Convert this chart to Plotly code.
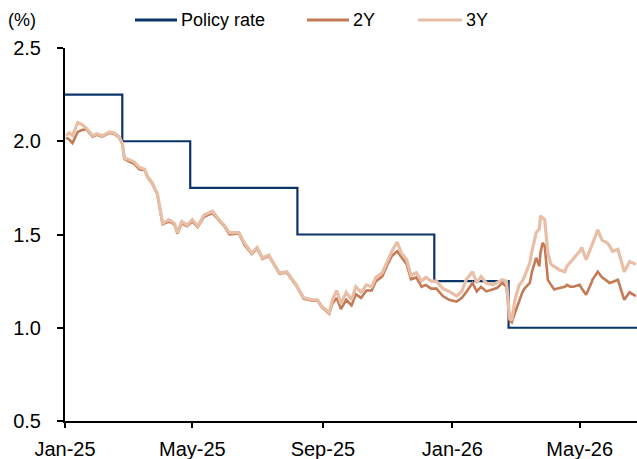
import plotly.graph_objects as go

# ---------------- data ----------------
policy_dates = ["2025-01-01", "2025-02-24", "2025-04-29", "2025-08-08",
                "2025-12-15", "2026-02-23", "2026-06-24"]
policy_rate = [2.25, 2.00, 1.75, 1.50, 1.25, 1.00, 1.00]

bond_dates = [
    "2025-01-02", "2025-01-05", "2025-01-08", "2025-01-13", "2025-01-17", "2025-01-21",
    "2025-01-27", "2025-01-31", "2025-02-05", "2025-02-12", "2025-02-16", "2025-02-21",
    "2025-02-24", "2025-02-26", "2025-03-03", "2025-03-07", "2025-03-12", "2025-03-17",
    "2025-03-20", "2025-03-24", "2025-03-29", "2025-04-02", "2025-04-03", "2025-04-09",
    "2025-04-14", "2025-04-17", "2025-04-21", "2025-04-26", "2025-05-01", "2025-05-06",
    "2025-05-12", "2025-05-20", "2025-05-26", "2025-05-31", "2025-06-05", "2025-06-14",
    "2025-06-19", "2025-06-26", "2025-07-01", "2025-07-06", "2025-07-12", "2025-07-22",
    "2025-07-29", "2025-08-07", "2025-08-14", "2025-08-22", "2025-08-27", "2025-08-31",
    "2025-09-07", "2025-09-10", "2025-09-14", "2025-09-18", "2025-09-23", "2025-09-28",
    "2025-10-02", "2025-10-07", "2025-10-12", "2025-10-17", "2025-10-21", "2025-10-27",
    "2025-11-01", "2025-11-05", "2025-11-10", "2025-11-14", "2025-11-19", "2025-11-23",
    "2025-11-28", "2025-12-03", "2025-12-07", "2025-12-12", "2025-12-17", "2025-12-23",
    "2025-12-29", "2026-01-05", "2026-01-10", "2026-01-14", "2026-01-20", "2026-01-24",
    "2026-01-28", "2026-02-02", "2026-02-08", "2026-02-12", "2026-02-17", "2026-02-21",
    "2026-02-24", "2026-02-26", "2026-03-01", "2026-03-05", "2026-03-08", "2026-03-10",
    "2026-03-15", "2026-03-17", "2026-03-21", "2026-03-24", "2026-03-25", "2026-03-27",
    "2026-03-29", "2026-03-30", "2026-03-31", "2026-04-01", "2026-04-04", "2026-04-07",
    "2026-04-10", "2026-04-12", "2026-04-17", "2026-04-19", "2026-04-22", "2026-04-25",
    "2026-04-28", "2026-05-01", "2026-05-03", "2026-05-07", "2026-05-12", "2026-05-13",
    "2026-05-18", "2026-05-22", "2026-05-27", "2026-05-29", "2026-06-01", "2026-06-06",
    "2026-06-12", "2026-06-17", "2026-06-23",
]

yield_3y = [
    2.03, 2.045, 2.03, 2.10, 2.09, 2.07,
    2.03, 2.04, 2.03, 2.05, 2.045, 2.025,
    1.99, 1.91, 1.90, 1.89, 1.86, 1.85,
    1.81, 1.78, 1.72, 1.60, 1.56, 1.58,
    1.56, 1.51, 1.57, 1.55, 1.58, 1.545,
    1.605, 1.625, 1.58, 1.55, 1.51, 1.51,
    1.455, 1.40, 1.43, 1.375, 1.39, 1.295,
    1.30, 1.23, 1.16, 1.15, 1.15, 1.115,
    1.08, 1.15, 1.20, 1.13, 1.19, 1.15,
    1.22, 1.19, 1.23, 1.22, 1.27, 1.295,
    1.365, 1.41, 1.46, 1.40, 1.365, 1.28,
    1.295, 1.25, 1.27, 1.25, 1.25, 1.21,
    1.195, 1.17, 1.195, 1.257, 1.30, 1.24,
    1.275, 1.24, 1.23, 1.24, 1.257, 1.25,
    1.05, 1.04, 1.15, 1.23, 1.25, 1.275,
    1.35, 1.41, 1.51, 1.53, 1.60, 1.59,
    1.58, 1.52, 1.455, 1.40, 1.34, 1.33,
    1.32, 1.31, 1.30, 1.33, 1.35, 1.37,
    1.39, 1.41, 1.43, 1.365, 1.435, 1.45,
    1.525, 1.47, 1.455, 1.44, 1.41, 1.42,
    1.30, 1.355, 1.34,
]

yield_2y = [
    2.02, 2.01, 1.99, 2.05, 2.06, 2.065,
    2.025, 2.035, 2.025, 2.045, 2.04, 2.02,
    1.985, 1.905, 1.89, 1.88, 1.85, 1.845,
    1.805, 1.775, 1.715, 1.595, 1.555, 1.57,
    1.555, 1.505, 1.56, 1.545, 1.57, 1.54,
    1.595, 1.615, 1.575, 1.545, 1.50, 1.505,
    1.445, 1.395, 1.425, 1.37, 1.385, 1.29,
    1.295, 1.225, 1.155, 1.145, 1.145, 1.11,
    1.075, 1.13, 1.16, 1.10, 1.15, 1.12,
    1.18, 1.16, 1.20, 1.20, 1.25, 1.275,
    1.34, 1.385, 1.41, 1.38, 1.34, 1.26,
    1.27, 1.22, 1.23, 1.21, 1.21, 1.17,
    1.15, 1.14, 1.16, 1.19, 1.24, 1.195,
    1.22, 1.195, 1.205, 1.213, 1.24, 1.22,
    1.04, 1.03, 1.08, 1.15, 1.19, 1.21,
    1.24, 1.30, 1.375, 1.33, 1.40, 1.455,
    1.44, 1.38, 1.30, 1.257, 1.23, 1.205,
    1.21, 1.213, 1.22, 1.23, 1.22, 1.22,
    1.225, 1.23, 1.21, 1.177, 1.24, 1.257,
    1.30, 1.27, 1.25, 1.24, 1.245, 1.257,
    1.15, 1.19, 1.17,
]

tick_dates = ["2025-01-01", "2025-05-01", "2025-09-01", "2026-01-01", "2026-05-01"]
tick_labels = ["Jan-25", "May-25", "Sep-25", "Jan-26", "May-26"]
y_ticks = [0.5, 1.0, 1.5, 2.0, 2.5]

series_names = ["Policy rate", "2Y", "3Y"]
series_colors = ["#0B3468", "#C47A55", "#E8BFA6"]

FONT = "Arial, Liberation Sans, sans-serif"

# ---------------- figure ----------------
fig = go.Figure()
fig.add_trace(go.Scatter(x=policy_dates, y=policy_rate, mode="lines",
                         line=dict(color=series_colors[0], width=2.2, shape="hv"),
                         name=series_names[0], showlegend=False))
fig.add_trace(go.Scatter(x=bond_dates, y=yield_2y, mode="lines",
                         line=dict(color=series_colors[1], width=2.6),
                         name=series_names[1], showlegend=False))
fig.add_trace(go.Scatter(x=bond_dates, y=yield_3y, mode="lines",
                         line=dict(color=series_colors[2], width=3.2),
                         name=series_names[2], showlegend=False))

L, R, T, B = 65, 0, 48, 38
W, H = 637, 459
pw, ph = W - L - R, H - T - B


def px_x(p):
    return (p - L) / pw


def px_y(p):
    return (H - B - p) / ph


# manual legend (line sample + label) placed above the plot
legend_pos = [(135, 177), (307, 349), (418, 462)]
shapes = []
annotations = []
for name, color, (x0, x1) in zip(series_names, series_colors, legend_pos):
    shapes.append(dict(type="line", xref="paper", yref="paper",
                       x0=px_x(x0), x1=px_x(x1), y0=px_y(20), y1=px_y(20),
                       line=dict(color=color, width=3)))
    annotations.append(dict(text=name, xref="paper", yref="paper",
                            x=px_x(x1 + 2), y=px_y(20), xanchor="left", yanchor="middle",
                            showarrow=False, font=dict(family=FONT, size=18, color="#000")))

annotations.append(dict(text="(%)", xref="paper", yref="paper",
                        x=px_x(6), y=px_y(20), xanchor="left", yanchor="middle",
                        showarrow=False, font=dict(family=FONT, size=18, color="#000")))

fig.update_layout(
    width=W, height=H,
    margin=dict(l=L, r=R, t=T, b=B, pad=0),
    paper_bgcolor="white", plot_bgcolor="white",
    font=dict(family=FONT, size=20, color="#000"),
    shapes=shapes, annotations=annotations,
    showlegend=False,
)
fig.update_xaxes(
    range=["2025-01-01", "2026-06-24"],
    tickvals=tick_dates, ticktext=tick_labels,
    showgrid=False, zeroline=False,
    showline=True, linecolor="#000", linewidth=2,
    ticks="outside", ticklen=5, tickwidth=2, tickcolor="#000",
    tickfont=dict(family=FONT, size=20, color="#000"),
    ticklabelstandoff=4,
)
fig.update_yaxes(
    range=[0.5, 2.5],
    tickvals=y_ticks, ticktext=[f"{v:.1f}" for v in y_ticks],
    showgrid=False, zeroline=False,
    showline=True, linecolor="#000", linewidth=2,
    ticks="outside", ticklen=6, tickwidth=2, tickcolor="#000",
    tickfont=dict(family=FONT, size=20, color="#000"),
    ticklabelstandoff=12,
)

fig.write_html("out.html",
               config={"displayModeBar": False},
               post_script="document.body.style.margin='0';document.body.style.padding='0';")
